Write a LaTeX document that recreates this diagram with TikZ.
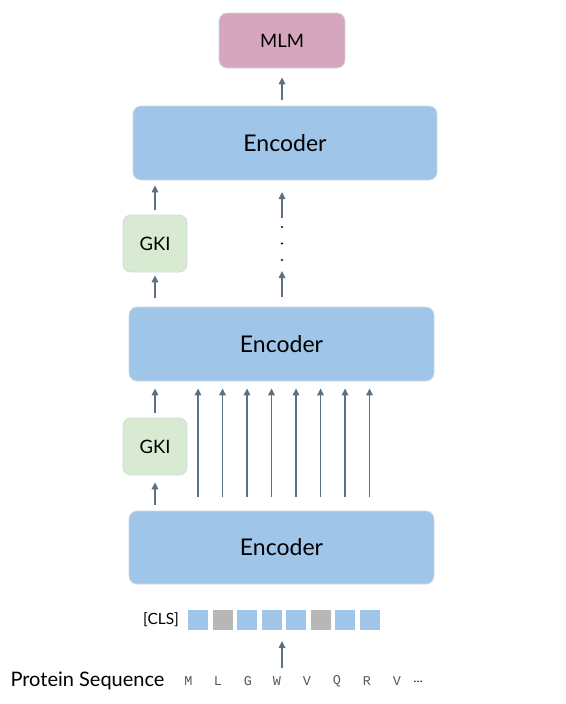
\documentclass[tikz,border=0pt]{standalone}
\usepackage{fontspec}
\setmainfont{Lato}
\setmonofont{Liberation Mono}
\usetikzlibrary{arrows.meta}
\definecolor{encblue}{HTML}{9FC5E8}
\definecolor{gkigreen}{HTML}{D9EAD3}
\definecolor{mlmpink}{HTML}{D5A6BD}
\definecolor{sqgrey}{HTML}{B7B7B7}
\definecolor{arrcol}{HTML}{5B7083}
\definecolor{boxline}{HTML}{D3D9DF}
\tikzset{
  box/.style={draw=boxline, line width=0.8pt, rounded corners=8pt, inner sep=0pt},
  encbox/.style={box, fill=encblue, minimum width=305pt, minimum height=74pt, font=\fontsize{23}{27}\selectfont},
  gkibox/.style={box, fill=gkigreen, minimum width=64pt, minimum height=57pt, font=\fontsize{18.5}{22}\selectfont},
  mlmbox/.style={box, fill=mlmpink, minimum width=126pt, minimum height=55pt, font=\fontsize{18.5}{22}\selectfont},
  tok/.style={draw=white, line width=0.6pt, minimum width=21pt, minimum height=21pt, inner sep=0pt},
  arr/.style={draw=arrcol, line width=1.4pt, -{Triangle[length=7pt,width=6.5pt]}},
  letter/.style={font=\ttfamily\fontsize{13.5}{16}\selectfont, text=black!65, inner sep=0pt},
  dotm/.style={circle, fill=black, inner sep=0pt, minimum size=2.2pt},
}
\begin{document}
\begin{tikzpicture}[x=1pt,y=-1pt]
\useasboundingbox (0,0) rectangle (565,704);
% boxes
\node[mlmbox] (mlm) at (282,40.5) {MLM};
\node[encbox, minimum width=304pt] (enc3) at (285,143) {Encoder};
\node[gkibox] (gki2) at (155,243.5) {GKI};
\node[encbox] (enc2) at (281.5,344) {Encoder};
\node[gkibox] (gki1) at (155,446.5) {GKI};
\node[encbox, minimum height=73pt] (enc1) at (281.5,547.5) {Encoder};
% tokens
\node[font=\fontsize{15.5}{18}\selectfont, inner sep=0pt] (cls) at (161,619.5) {[CLS]};
\foreach \i/\x/\c in {1/198/encblue,2/222.5/sqgrey,3/247/encblue,4/271.5/encblue,5/296/encblue,6/320.5/sqgrey,7/345/encblue,8/369.5/encblue}{
  \node[tok, fill=\c] (sq\i) at (\x,619.5) {};
}
% protein sequence
\node[font=\fontsize{20}{24}\selectfont, inner sep=0pt] (ps) at (87.5,681) {Protein Sequence};
\foreach \i/\x/\t in {1/188.5/M,2/218/L,3/248/G,4/277/W,5/307/V,6/337/Q,7/367/R,8/397/V}{
  \node[letter] (l\i) at (\x,681) {\t};
}
\node[font=\fontsize{12}{14}\selectfont, inner sep=0pt] (ell) at (418,682) {\dots};
% arrows
\coordinate (pin) at (282,668);
\coordinate (pout) at (282,641);
\draw[arr] (pin) -- (pout);
\foreach \i in {1,...,8}{
  \draw[arr, shorten <=14pt, shorten >=7pt] (sq\i |- enc1.north) -- (sq\i |- enc2.south);
}
\draw[arr, shorten <=6pt, shorten >=7pt] (gki1 |- enc1.north) -- (gki1.south);
\draw[arr, shorten <=5pt, shorten >=7pt] (gki1.north) -- (gki1 |- enc2.south);
\draw[arr, shorten <=9pt, shorten >=3pt] (gki2 |- enc2.north) -- (gki2.south);
\draw[arr, shorten <=5pt, shorten >=5pt] (gki2.north) -- (gki2 |- enc3.south);
\coordinate (d1) at (282,227);
\coordinate (d3) at (282,260);
\draw[arr, shorten <=10pt, shorten >=0pt] (enc2.north -| d1) -- (282,271);
\node[dotm] (dot1) at (282,227) {};
\node[dotm] (dot2) at (282,243.5) {};
\node[dotm] (dot3) at (282,260) {};
\draw[arr] (282,218) -- (282,192);
\draw[arr, shorten <=6pt, shorten >=9pt] (enc3.north -| mlm) -- (mlm.south);
\end{tikzpicture}
\end{document}
